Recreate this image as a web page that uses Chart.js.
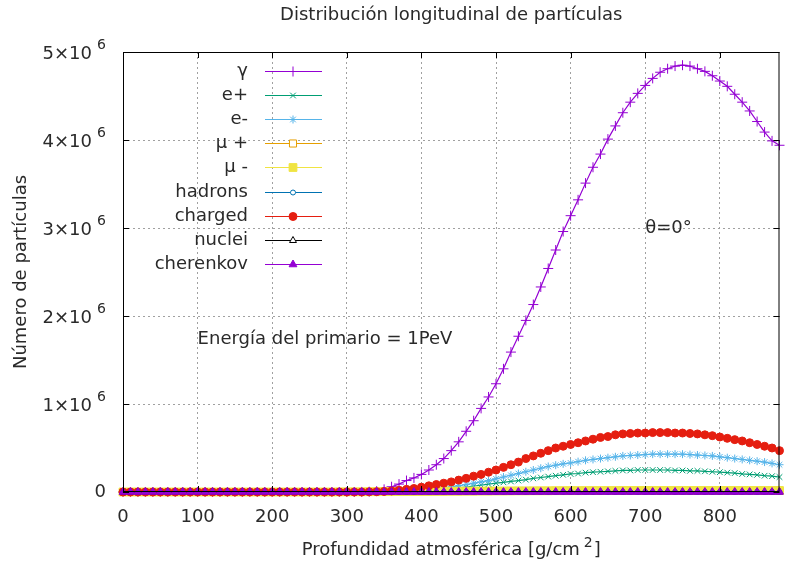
<!DOCTYPE html>
<html>
<head>
<meta charset="utf-8">
<script src="https://cdn.jsdelivr.net/npm/chart.js@4.4.0/dist/chart.umd.min.js"></script>
<style>
  html, body { margin: 0; padding: 0; background: #fff; }
  #wrap { width: 786px; height: 566px; }
</style>
</head>
<body>
<div id="wrap"><canvas id="showerChart" width="786" height="566"></canvas></div>
<script>
// Profundidad atmosferica (g/cm2), one row per 100
const depth = [
  0, 10, 20, 30, 40, 50, 60, 70, 80, 90,
  100, 110, 120, 130, 140, 150, 160, 170, 180, 190,
  200, 210, 220, 230, 240, 250, 260, 270, 280, 290,
  300, 310, 320, 330, 340, 350, 360, 370, 380, 390,
  400, 410, 420, 430, 440, 450, 460, 470, 480, 490,
  500, 510, 520, 530, 540, 550, 560, 570, 580, 590,
  600, 610, 620, 630, 640, 650, 660, 670, 680, 690,
  700, 710, 720, 730, 740, 750, 760, 770, 780, 790,
  800, 810, 820, 830, 840, 850, 860, 870, 880
];

// particle counts, in units of 10^6
const gamma = [
  0, 0, 0, 0, 0, 0, 0, 0, 0, 0,
  0, 0, 0, 0, 0, 0, 0, 0, 0, 0,
  0, 0, 0, 0, 0, 0, 0, 0, 0, 0,
  0, 0, 0.001, 0.003, 0.01, 0.03, 0.06, 0.09, 0.13, 0.16,
  0.20, 0.25, 0.31, 0.38, 0.47, 0.57, 0.69, 0.81, 0.95, 1.08,
  1.23, 1.40, 1.59, 1.77, 1.95, 2.13, 2.33, 2.54, 2.75, 2.96,
  3.14, 3.32, 3.51, 3.69, 3.84, 4.01, 4.16, 4.31, 4.43, 4.53,
  4.62, 4.70, 4.77, 4.81, 4.84, 4.85, 4.84, 4.81, 4.78, 4.73,
  4.67, 4.61, 4.52, 4.43, 4.33, 4.21, 4.09, 3.99, 3.94
];
const ePlus = [
  0, 0, 0, 0, 0, 0, 0, 0, 0, 0,
  0, 0, 0, 0, 0, 0, 0, 0, 0, 0,
  0, 0, 0, 0, 0, 0, 0, 0, 0, 0,
  0, 0, 0, 0, 0, 0, 0.001, 0.003, 0.005, 0.008,
  0.012, 0.017, 0.023, 0.030, 0.038, 0.047, 0.057, 0.068, 0.079, 0.090,
  0.100, 0.110, 0.120, 0.130, 0.140, 0.155, 0.165, 0.175, 0.185, 0.195,
  0.205, 0.210, 0.220, 0.225, 0.230, 0.235, 0.240, 0.245, 0.245, 0.250,
  0.250, 0.250, 0.250, 0.250, 0.245, 0.245, 0.240, 0.240, 0.235, 0.230,
  0.225, 0.220, 0.215, 0.205, 0.200, 0.195, 0.185, 0.180, 0.170
];
const eMinus = [
  0, 0, 0, 0, 0, 0, 0, 0, 0, 0,
  0, 0, 0, 0, 0, 0, 0, 0, 0, 0,
  0, 0, 0, 0, 0, 0, 0, 0, 0, 0,
  0, 0, 0, 0, 0, 0, 0.002, 0.004, 0.008, 0.013,
  0.020, 0.027, 0.035, 0.045, 0.057, 0.070, 0.085, 0.100, 0.115, 0.130,
  0.150, 0.170, 0.190, 0.210, 0.230, 0.250, 0.270, 0.290, 0.305, 0.320,
  0.330, 0.345, 0.360, 0.370, 0.380, 0.390, 0.400, 0.410, 0.415, 0.420,
  0.425, 0.430, 0.430, 0.430, 0.430, 0.430, 0.425, 0.420, 0.415, 0.410,
  0.400, 0.390, 0.380, 0.370, 0.360, 0.350, 0.340, 0.325, 0.310
];
const muPlus = [
  0, 0, 0, 0, 0, 0, 0, 0, 0, 0,
  0, 0, 0, 0, 0, 0, 0, 0, 0, 0,
  0, 0, 0, 0, 0, 0, 0, 0, 0, 0.001,
  0.001, 0.001, 0.002, 0.002, 0.003, 0.003, 0.004, 0.004, 0.005, 0.005,
  0.006, 0.006, 0.007, 0.007, 0.008, 0.008, 0.009, 0.009, 0.010, 0.010,
  0.011, 0.011, 0.011, 0.012, 0.012, 0.012, 0.013, 0.013, 0.013, 0.013,
  0.014, 0.014, 0.014, 0.014, 0.014, 0.015, 0.015, 0.015, 0.015, 0.015,
  0.015, 0.015, 0.015, 0.015, 0.015, 0.015, 0.015, 0.015, 0.015, 0.015,
  0.015, 0.015, 0.015, 0.015, 0.015, 0.015, 0.015, 0.015, 0.015
];
const muMinus = [
  0, 0, 0, 0, 0, 0, 0, 0, 0, 0,
  0, 0, 0, 0, 0, 0, 0, 0, 0, 0,
  0, 0, 0, 0, 0, 0, 0, 0, 0, 0.001,
  0.001, 0.002, 0.002, 0.003, 0.003, 0.004, 0.004, 0.005, 0.005, 0.006,
  0.007, 0.007, 0.008, 0.008, 0.009, 0.009, 0.010, 0.010, 0.011, 0.011,
  0.012, 0.012, 0.013, 0.013, 0.013, 0.014, 0.014, 0.014, 0.015, 0.015,
  0.015, 0.015, 0.016, 0.016, 0.016, 0.016, 0.016, 0.017, 0.017, 0.017,
  0.017, 0.017, 0.017, 0.017, 0.017, 0.017, 0.017, 0.017, 0.017, 0.017,
  0.017, 0.017, 0.017, 0.017, 0.017, 0.017, 0.017, 0.017, 0.017
];
const hadrons = [
  0, 0, 0, 0, 0, 0, 0, 0, 0, 0,
  0, 0, 0, 0, 0, 0, 0, 0, 0, 0,
  0, 0, 0, 0, 0, 0, 0, 0, 0, 0,
  0, 0, 0, 0, 0, 0, 0, 0, 0, 0,
  0.001, 0.001, 0.001, 0.001, 0.001, 0.001, 0.001, 0.001, 0.001, 0.001,
  0.001, 0.001, 0.001, 0.001, 0.001, 0.001, 0.001, 0.001, 0.001, 0.001,
  0.001, 0.001, 0.001, 0.001, 0.001, 0.001, 0.001, 0.001, 0.001, 0.001,
  0.001, 0.001, 0.001, 0.001, 0.001, 0.001, 0.001, 0.001, 0.001, 0.001,
  0.001, 0.001, 0.001, 0.001, 0.001, 0.001, 0.001, 0.001, 0.001
];
const charged = [
  0, 0, 0, 0, 0, 0, 0, 0, 0, 0,
  0, 0, 0, 0, 0, 0, 0, 0, 0, 0,
  0, 0, 0, 0, 0, 0, 0, 0, 0, 0,
  0, 0, 0, 0.002, 0.004, 0.007, 0.012, 0.020, 0.030, 0.040,
  0.055, 0.070, 0.085, 0.100, 0.115, 0.135, 0.155, 0.180, 0.200, 0.225,
  0.250, 0.280, 0.310, 0.340, 0.380, 0.410, 0.440, 0.470, 0.500, 0.520,
  0.540, 0.560, 0.580, 0.600, 0.620, 0.630, 0.650, 0.660, 0.665, 0.670,
  0.670, 0.675, 0.675, 0.675, 0.670, 0.670, 0.665, 0.660, 0.650, 0.640,
  0.625, 0.610, 0.595, 0.580, 0.560, 0.540, 0.520, 0.500, 0.470
];
const nuclei = [
  0, 0, 0, 0, 0, 0, 0, 0, 0, 0,
  0, 0, 0, 0, 0, 0, 0, 0, 0, 0,
  0, 0, 0, 0, 0, 0, 0, 0, 0, 0,
  0, 0, 0, 0, 0, 0, 0, 0, 0, 0,
  0, 0, 0, 0, 0, 0, 0, 0, 0, 0,
  0, 0, 0, 0, 0, 0, 0, 0, 0, 0,
  0, 0, 0, 0, 0, 0, 0, 0, 0, 0,
  0, 0, 0, 0, 0, 0, 0, 0, 0, 0,
  0, 0, 0, 0, 0, 0, 0, 0, 0
];
const cherenkov = [
  0, 0, 0, 0, 0, 0, 0, 0, 0, 0,
  0, 0, 0, 0, 0, 0, 0, 0, 0, 0,
  0, 0, 0, 0, 0, 0, 0, 0, 0, 0,
  0, 0, 0, 0, 0, 0, 0, 0, 0, 0,
  0, 0, 0, 0, 0, 0, 0, 0, 0, 0,
  0, 0, 0, 0, 0, 0, 0, 0, 0, 0,
  0, 0, 0, 0, 0, 0, 0, 0, 0, 0,
  0, 0, 0, 0, 0, 0, 0, 0, 0, 0,
  0, 0, 0, 0, 0, 0, 0, 0, 0
];

const seriesLabels = ['γ', 'e+', 'e-', 'μ +', 'μ -', 'hadrons', 'charged', 'nuclei', 'cherenkov'];
const seriesValues = [gamma, ePlus, eMinus, muPlus, muMinus, hadrons, charged, nuclei, cherenkov];
const seriesColors = ['#9400d3', '#009e73', '#56b4e9', '#e69f00', '#f0e442', '#0072b2', '#e51e10', '#000000', '#9400d3'];
const seriesMarkers = ['cross', 'crossRot', 'star', 'rect', 'rect', 'circle', 'circle', 'triangle', 'triangle'];
const markerRadius = [5, 4, 4, 5, 5.5, 2.5, 4, 4, 4.5];
const hollow = [false, false, false, true, false, true, false, true, false];

const yTicks = [0, 1, 2, 3, 4, 5];
const FONT = '"DejaVu Sans", sans-serif';
const TEXT = '#2a2a2a';

const datasets = seriesValues.map((vals, i) => ({
  label: seriesLabels[i],
  data: depth.map((d, k) => ({ x: d, y: vals[k] })),
  borderColor: seriesColors[i],
  backgroundColor: seriesColors[i],
  pointBackgroundColor: hollow[i] ? '#ffffff' : seriesColors[i],
  pointBorderColor: seriesColors[i],
  pointStyle: seriesMarkers[i],
  pointRadius: markerRadius[i],
  pointBorderWidth: 1,
  borderWidth: 1.2,
  tension: 0,
  clip: 8,
  order: seriesValues.length - i   // gnuplot draws later curves on top
}));

// border, inward tick marks, y labels with exponent, x title, key and labels
const gnuplotDecor = {
  id: 'gnuplotDecor',
  afterDraw(chart) {
    const ctx = chart.ctx;
    const a = chart.chartArea;
    const x = chart.scales.x;
    const y = chart.scales.y;
    ctx.save();

    ctx.strokeStyle = '#000';
    ctx.lineWidth = 1;
    ctx.setLineDash([]);
    ctx.strokeRect(a.left + 0.5, a.top + 0.5, a.right - a.left - 1, a.bottom - a.top - 1);

    ctx.beginPath();
    x.ticks.forEach(t => {
      const px = Math.round(x.getPixelForValue(t.value)) + 0.5;
      ctx.moveTo(px, a.bottom); ctx.lineTo(px, a.bottom - 6);
      ctx.moveTo(px, a.top); ctx.lineTo(px, a.top + 6);
    });
    y.ticks.forEach(t => {
      const py = Math.round(y.getPixelForValue(t.value)) + 0.5;
      ctx.moveTo(a.left, py); ctx.lineTo(a.left + 6, py);
      ctx.moveTo(a.right, py); ctx.lineTo(a.right - 6, py);
    });
    ctx.stroke();

    // y tick labels: "n×10 6"
    ctx.fillStyle = TEXT;
    ctx.textBaseline = 'middle';
    y.ticks.forEach(t => {
      const py = y.getPixelForValue(t.value);
      ctx.font = '18px ' + FONT;
      ctx.textAlign = 'right';
      if (t.value === 0) {
        ctx.fillText('0', 106, py);
      } else {
        ctx.fillText(t.value + '×10', 92, py + 2);
        ctx.font = '14px ' + FONT;
        ctx.textAlign = 'left';
        ctx.fillText('6', 97, py - 7);
      }
    });

    // x axis title with superscript
    const main = 'Profundidad atmosférica [g/cm';
    ctx.font = '18px ' + FONT;
    const w1 = ctx.measureText(main).width;
    const w3 = ctx.measureText(']').width;
    ctx.font = '14px ' + FONT;
    const w2 = ctx.measureText('2').width;
    const total = w1 + 4 + w2 + 1 + w3;
    const sx = (a.left + a.right) / 2 - total / 2;
    ctx.textAlign = 'left';
    ctx.font = '18px ' + FONT;
    ctx.fillText(main, sx, 550);
    ctx.font = '14px ' + FONT;
    ctx.fillText('2', sx + w1 + 4, 543);
    ctx.font = '18px ' + FONT;
    ctx.fillText(']', sx + w1 + 4 + w2 + 1, 550);

    // title
    ctx.textAlign = 'center';
    ctx.fillText('Distribución longitudinal de partículas', (a.left + a.right) / 2, 15);

    // labels placed in data coordinates
    ctx.textAlign = 'left';
    ctx.fillText('θ=0°', x.getPixelForValue(700), y.getPixelForValue(3.0));
    ctx.fillText('Energía del primario = 1PeV', x.getPixelForValue(100), y.getPixelForValue(1.73));

    // key, top left inside the plot
    chart.data.datasets.forEach((ds, i) => {
      const ry = Math.round(71 + i * 24.1) + 0.5;
      ctx.fillStyle = TEXT;
      ctx.textAlign = 'right';
      ctx.font = '18px ' + FONT;
      ctx.fillText(ds.label, 248, ry);
      ctx.strokeStyle = ds.borderColor;
      ctx.lineWidth = 1.2;
      ctx.beginPath();
      ctx.moveTo(265, ry);
      ctx.lineTo(322, ry);
      ctx.stroke();
      ctx.lineWidth = 1;
      ctx.fillStyle = ds.pointBackgroundColor;
      Chart.helpers.drawPoint(ctx, {
        pointStyle: ds.pointStyle,
        radius: ds.pointRadius,
        rotation: 0,
        borderWidth: 1
      }, 293, ry);
    });

    ctx.restore();
  }
};

new Chart(document.getElementById('showerChart'), {
  type: 'line',
  data: { datasets: datasets },
  plugins: [gnuplotDecor],
  options: {
    responsive: false,
    animation: false,
    events: [],
    layout: { padding: { top: 52, right: 3, left: 0, bottom: 0 } },
    plugins: {
      legend: { display: false },
      tooltip: { enabled: false },
      title: { display: false }
    },
    scales: {
      x: {
        type: 'linear',
        min: 0,
        max: 880,
        afterFit: s => { s.height = 74; },
        border: { display: false, dash: [2, 3] },
        grid: { color: '#a0a0a0', drawTicks: false, lineWidth: 1 },
        ticks: {
          stepSize: 100,
          includeBounds: false,
          padding: 15,
          color: TEXT,
          font: { family: FONT, size: 18 }
        }
      },
      y: {
        type: 'linear',
        min: yTicks[0],
        max: yTicks[yTicks.length - 1],
        afterFit: s => { s.width = 123; },
        afterBuildTicks: s => { s.ticks = yTicks.map(v => ({ value: v })); },
        border: { display: false, dash: [2, 3] },
        grid: { color: '#a0a0a0', drawTicks: false, lineWidth: 1 },
        ticks: { display: false },
        title: {
          display: true,
          text: 'Número de partículas',
          color: TEXT,
          font: { family: FONT, size: 18 },
          padding: { top: 11 }
        }
      }
    }
  }
});
</script>
</body>
</html>
